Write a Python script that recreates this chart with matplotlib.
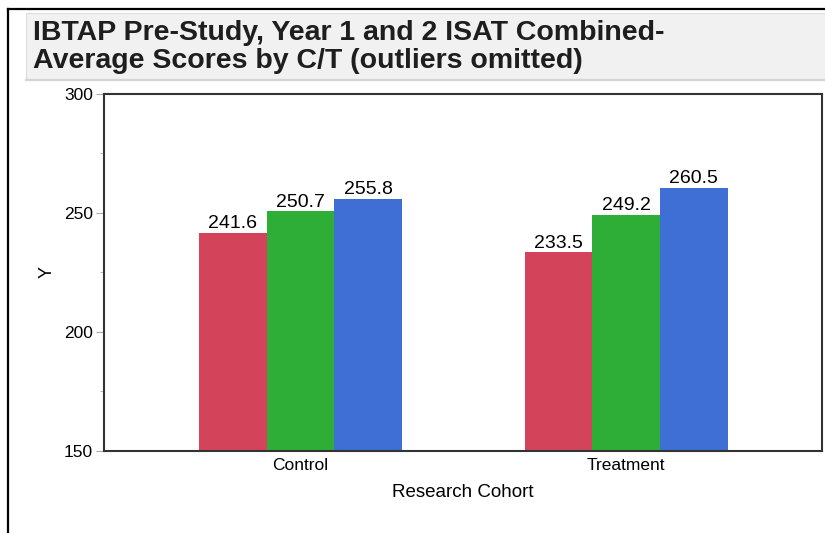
import numpy as np
import matplotlib.pyplot as plt
from matplotlib.patches import Rectangle
from matplotlib.lines import Line2D

plt.rcParams['font.family'] = ['Liberation Sans', 'DejaVu Sans']

# Data
cohorts = ['Control', 'Treatment']
pre_study = [241.6, 233.5]
year1 = [250.7, 249.2]
year2 = [255.8, 260.5]
series = [pre_study, year1, year2]
colors = ['#d3435a', '#2eae37', '#3f6fd4']

W, H = 825, 533
fig = plt.figure(figsize=(W / 100, H / 100), dpi=100)

# outer frame lines (left and top)
fig.add_artist(Line2D([8 / W, 8 / W], [0, 1 - 9 / H], color='black', lw=1.6))
fig.add_artist(Line2D([8 / W, 1], [1 - 9 / H, 1 - 9 / H], color='black', lw=1.6))

# title box
fig.add_artist(Rectangle((26 / W, 1 - 80 / H), 1 - 26 / W, 67 / H,
                         facecolor='#f1f1f1', edgecolor='#dddddd', lw=0.8))
fig.add_artist(Line2D([26 / W, 1], [1 - 80 / H, 1 - 80 / H], color='#d4d4d4', lw=1.6))
fig.text(33 / W, 1 - 40 / H, 'IBTAP Pre-Study, Year 1 and 2 ISAT Combined-',
         fontsize=20.5, fontweight='bold', color='#1e1e1e', va='baseline')
fig.text(33 / W, 1 - 68 / H, 'Average Scores by C/T (outliers omitted)',
         fontsize=20.5, fontweight='bold', color='#1e1e1e', va='baseline')

ax = fig.add_axes([104 / W, 1 - 451 / H, (822 - 104) / W, (451 - 94) / H])

x = np.arange(len(cohorts))
bw = 0.208
offsets = [-bw, 0, bw]
for vals, off, c in zip(series, offsets, colors):
    ax.bar(x + off, np.array(vals) - 150, bottom=150, width=bw, color=c)
    for xi, v in zip(x + off, vals):
        ax.text(xi, v + 2, f'{v:.1f}', ha='center', va='baseline', fontsize=14)

ax.set_ylim(150, 300)
ax.set_xlim(-0.604, 1.602)
ax.set_yticks([150, 200, 250, 300])
ax.set_yticks([175, 225, 275], minor=True)
ax.set_xticks(x)
ax.set_xticklabels(cohorts)
ax.tick_params(axis='y', which='major', length=6, color='#aaaaaa', labelsize=12.5, pad=2)
ax.tick_params(axis='y', which='minor', length=3, color='#aaaaaa')
ax.tick_params(axis='x', length=0, labelsize=12.5, pad=5)
for s in ax.spines.values():
    s.set_color('#333333')
    s.set_linewidth(1.5)

ax.set_xlabel('Research Cohort', fontsize=13.5, labelpad=8)
fig.text(47 / W, 1 - 272 / H, 'Y', rotation=90, ha='center', va='center', fontsize=13)

fig.savefig('out.png', dpi=100)
